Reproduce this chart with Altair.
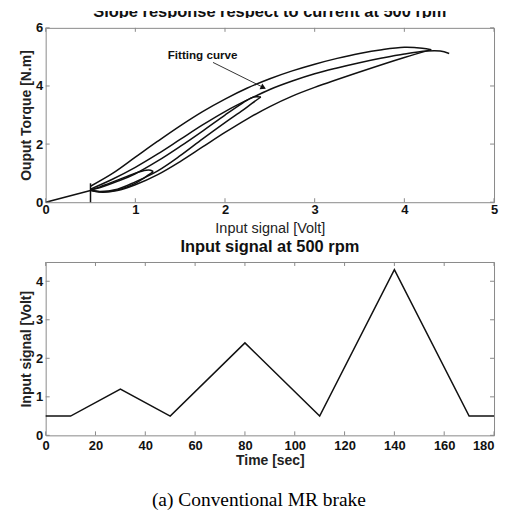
import altair as alt
import pandas as pd

FONT = "Liberation Sans"
SERIF = "Liberation Serif"
GRAY = "#8a8a8a"

# ---------------- text ----------------
TOP_TITLE = "Slope response respect to current at 500 rpm"
BOTTOM_TITLE = "Input signal at 500 rpm"
CAPTION = "(a) Conventional MR brake"
ANNOT = "Fitting curve"

# ---------------- top panel data (voltage, torque) ----------------
ramp_v = [0.0, 0.5]
ramp_t = [0.0, 0.40]
marker_v = [0.5, 0.5]
marker_t = [0.0, 0.65]

loopA_up_v = [0.5, 0.6, 0.7, 0.8, 0.9, 1.0, 1.1, 1.2]
loopA_up_t = [0.40, 0.36, 0.37, 0.42, 0.52, 0.65, 0.84, 1.05]
loopA_dn_v = [1.2, 1.17, 1.12, 1.0, 0.9, 0.8, 0.7, 0.6, 0.5]
loopA_dn_t = [1.05, 1.10, 1.10, 1.00, 0.88, 0.76, 0.64, 0.52, 0.42]

loopB_up_v = [0.5, 0.6, 0.8, 1.0, 1.25, 1.5, 1.75, 2.0, 2.2, 2.3, 2.4]
loopB_up_t = [0.42, 0.37, 0.45, 0.70, 1.08, 1.60, 2.18, 2.74, 3.17, 3.40, 3.62]
loopB_dn_v = [2.4, 2.35, 2.3, 2.2, 2.0, 1.75, 1.5, 1.25, 1.0, 0.8, 0.6, 0.5]
loopB_dn_t = [3.62, 3.63, 3.60, 3.42, 3.00, 2.45, 1.92, 1.42, 0.98, 0.72, 0.50, 0.42]

loopC_up_v = [0.5, 0.6, 0.8, 1.0, 1.25, 1.5, 1.75, 2.0, 2.25, 2.5, 2.75, 3.0, 3.5, 4.0, 4.3]
loopC_up_t = [0.42, 0.35, 0.40, 0.60, 0.95, 1.40, 1.90, 2.40, 2.87, 3.29, 3.65, 3.95, 4.48, 4.98, 5.25]
loopC_dn_v = [4.3, 4.2, 4.0, 3.75, 3.5, 3.25, 3.0, 2.75, 2.5, 2.25, 2.0, 1.75, 1.5, 1.25, 1.0, 0.75, 0.5]
loopC_dn_t = [5.25, 5.30, 5.33, 5.25, 5.12, 4.95, 4.75, 4.52, 4.25, 3.93, 3.55, 3.12, 2.63, 2.10, 1.55, 1.00, 0.55]

fit_v = [0.5, 0.75, 1.0, 1.25, 1.5, 1.75, 2.0, 2.25, 2.5, 2.75, 3.0, 3.25, 3.5, 3.75, 4.0, 4.25, 4.4, 4.5]
fit_t = [0.45, 0.80, 1.20, 1.66, 2.16, 2.66, 3.12, 3.52, 3.88, 4.17, 4.42, 4.62, 4.80, 4.96, 5.10, 5.20, 5.20, 5.12]

annot_pos = [1.75, 5.07]
arrow_v = [1.866, 2.44]
arrow_t = [4.81, 3.93]
arrow_head = [2.428, 3.946]

xticks1 = [0, 1, 2, 3, 4, 5]
yticks1 = [0, 2, 4, 6]

# ---------------- bottom panel data ----------------
time_s = [0, 10, 30, 50, 80, 110, 140, 170, 180]
signal_v = [0.5, 0.5, 1.2, 0.5, 2.4, 0.5, 4.3, 0.5, 0.5]
xticks2 = [0, 20, 40, 60, 80, 100, 120, 140, 160, 180]
yticks2 = [0, 1, 2, 3, 4]

# ---------------- build tables ----------------
series = [
    ("ramp", ramp_v, ramp_t),
    ("marker", marker_v, marker_t),
    ("A_up", loopA_up_v, loopA_up_t),
    ("A_dn", loopA_dn_v, loopA_dn_t),
    ("B_up", loopB_up_v, loopB_up_t),
    ("B_dn", loopB_dn_v, loopB_dn_t),
    ("C_up", loopC_up_v, loopC_up_t),
    ("C_dn", loopC_dn_v, loopC_dn_t),
    ("fit", fit_v, fit_t),
]
rows = []
for name, vs, ts in series:
    for i, (v, t) in enumerate(zip(vs, ts)):
        rows.append({"series": name, "i": i, "v": v, "t": t})
curves = pd.DataFrame(rows)

W1, H1 = 450, 175
W2, H2 = 450, 174
TL = 4  # inward tick length
PH = 7  # clipped title strip height

xs1 = alt.Scale(domain=[0, 5], nice=False, zero=False)
ys1 = alt.Scale(domain=[0, 6], nice=False, zero=False)
xs2 = alt.Scale(domain=[0, 180], nice=False, zero=False)
ys2 = alt.Scale(domain=[0, 4.5], nice=False, zero=False)

ax_x1 = alt.Axis(values=xticks1, title="Input signal [Volt]", titleFontWeight="normal",
                 titleFontSize=14.5, labelPadding=1, titlePadding=5)
ax_y1 = alt.Axis(values=yticks1, title="Ouput Torque [N.m]", labelPadding=3, titlePadding=2)
ax_x2 = alt.Axis(values=xticks2, title="Time [sec]", labelPadding=4, titlePadding=1,
                 labelAlign=alt.ExprRef("datum.value == 180 ? 'right' : 'center'"))
ax_y2 = alt.Axis(values=yticks2, title="Input signal [Volt]", labelPadding=3, titlePadding=2)


def X1(f):
    return alt.X(f, scale=xs1, axis=ax_x1)


def Y1(f):
    return alt.Y(f, scale=ys1, axis=ax_y1)


def X2(f):
    return alt.X(f, scale=xs2, axis=ax_x2)


def Y2(f):
    return alt.Y(f, scale=ys2, axis=ax_y2)


def inward_ticks(xvals, yvals, Xf, Yf, w, h):
    tx = pd.DataFrame({"v": xvals})
    ty = pd.DataFrame({"t": yvals})
    base_x = alt.Chart(tx).mark_rule(color=GRAY, strokeWidth=1)
    base_y = alt.Chart(ty).mark_rule(color=GRAY, strokeWidth=1)
    return [
        base_x.encode(x=Xf("v:Q"), y=alt.value(h), y2=alt.value(h - TL)),
        base_x.encode(x=Xf("v:Q"), y=alt.value(0), y2=alt.value(TL)),
        base_y.encode(y=Yf("t:Q"), x=alt.value(0), x2=alt.value(TL)),
        base_y.encode(y=Yf("t:Q"), x=alt.value(w), x2=alt.value(w - TL)),
    ]


# ---------------- title strip (clipped like the reference) ----------------
strip = alt.Chart(pd.DataFrame({"txt": [TOP_TITLE]})).mark_text(
    clip=True, font=FONT, fontSize=16.5, fontWeight="bold", align="center",
    baseline="alphabetic", color="#111"
).encode(
    text="txt:N", x=alt.value(W1 / 2), y=alt.value(PH - 0.5)
).properties(width=W1, height=PH, view=alt.ViewBackground(strokeOpacity=0))

# ---------------- top chart ----------------
lines1 = alt.Chart(curves).mark_line(
    color="#111", strokeWidth=1.5, interpolate="catmull-rom"
).encode(
    x=X1("v:Q"), y=Y1("t:Q"), detail="series:N", order="i:Q",
)

annot = alt.Chart(pd.DataFrame({"v": [annot_pos[0]], "t": [annot_pos[1]], "txt": [ANNOT]})).mark_text(
    font=FONT, fontSize=11.7, fontWeight="bold", color="#111"
).encode(x=X1("v:Q"), y=Y1("t:Q"), text="txt:N")

arrow = alt.Chart(pd.DataFrame({"v": [arrow_v[0]], "t": [arrow_t[0]], "v2": [arrow_v[1]], "t2": [arrow_t[1]]})).mark_rule(
    color="#333", strokeWidth=1
).encode(x=X1("v:Q"), y=Y1("t:Q"), x2="v2:Q", y2="t2:Q")

head = alt.Chart(pd.DataFrame({"v": [arrow_head[0]], "t": [arrow_head[1]]})).mark_point(
    shape="triangle-right", filled=True, color="#111", size=40, angle=26, opacity=1
).encode(x=X1("v:Q"), y=Y1("t:Q"))

top = alt.layer(
    lines1, annot, arrow, head,
    *inward_ticks(xticks1, yticks1, X1, Y1, W1, H1)
).properties(width=W1, height=H1, view=alt.ViewBackground(stroke=GRAY, strokeWidth=1))

# ---------------- bottom chart ----------------
sig = pd.DataFrame({"v": time_s, "t": signal_v})
line2 = alt.Chart(sig).mark_line(color="#111", strokeWidth=1.5).encode(
    x=X2("v:Q"), y=Y2("t:Q"),
)

cap = alt.Chart(pd.DataFrame({"txt": [CAPTION]})).mark_text(
    font=SERIF, fontSize=19.5, align="center", baseline="alphabetic", color="#000"
).encode(text="txt:N", x=alt.value(214), y=alt.value(245))

bottom = alt.layer(
    line2, cap,
    *inward_ticks(xticks2, yticks2, X2, Y2, W2, H2)
).properties(
    width=W2, height=H2,
    title=alt.TitleParams(BOTTOM_TITLE, font=FONT, fontSize=16.5, fontWeight="bold",
                          offset=6, anchor="middle", color="#111"),
    view=alt.ViewBackground(stroke=GRAY, strokeWidth=1),
)

chart = alt.vconcat(strip, top, bottom, spacing=3).properties(
    padding={"left": 10.8, "top": 2, "right": 0, "bottom": 0}
).configure_axis(
    labelFont=FONT, labelFontSize=13, labelFontWeight="bold", labelColor="#111",
    titleFont=FONT, titleFontSize=14, titleFontWeight="bold", titleColor="#222",
    ticks=False, domain=False, grid=False, labelFlush=False,
).configure_text(font=FONT)

chart.save("out.html", embed_options={"renderer": "svg", "actions": False})
